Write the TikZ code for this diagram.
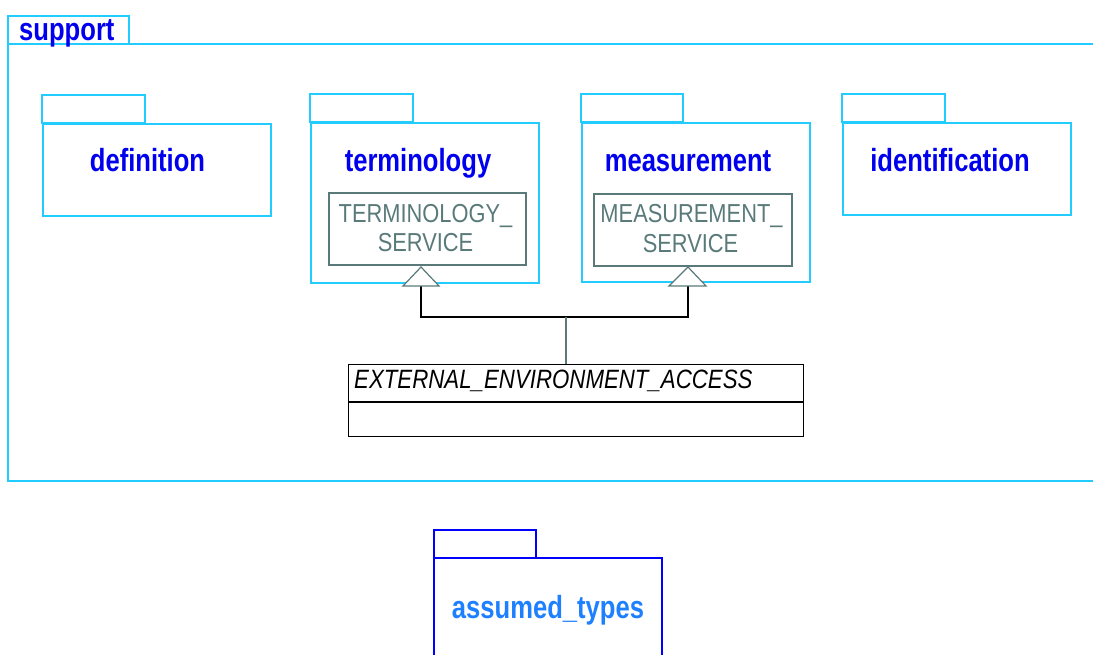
\documentclass[tikz,border=0pt]{standalone}
\usetikzlibrary{calc}
\usepackage{fontspec}
\setmainfont{Liberation Sans}
\newfontfamily\pkgfont[FakeStretch=0.8]{Liberation Sans}
\newfontfamily\clsfont[FakeStretch=0.84]{Liberation Sans}
\newfontfamily\eeafont[FakeStretch=0.84]{Liberation Sans}
\definecolor{framecyan}{RGB}{34,204,255}
\definecolor{lblblue}{RGB}{0,0,238}
\definecolor{atblue}{RGB}{0,0,255}
\definecolor{atlbl}{RGB}{30,128,255}
\definecolor{clsgrey}{RGB}{90,122,122}
\tikzset{
  pkgline/.style={draw=framecyan, line width=2pt},
  pkgbody/.style={pkgline, rectangle, inner sep=0pt, anchor=north west},
  pkglabel/.style={text=lblblue, anchor=base, inner sep=0pt, font=\pkgfont\bfseries\fontsize{32}{36}\selectfont},
  clsbox/.style={draw=clsgrey, line width=2pt, rectangle, inner sep=0pt, anchor=north west},
  clstext/.style={text=clsgrey, anchor=base, inner sep=0pt, font=\clsfont\fontsize{26}{30}\selectfont},
  gentri/.style={draw=clsgrey, line width=1.2pt, fill=white, line join=miter},
  genline/.style={draw=black, line width=2pt},
  eeabox/.style={draw=black, line width=1.2pt, rectangle, inner sep=0pt, anchor=north west},
}
\begin{document}
\begin{tikzpicture}[x=1pt, y=-1pt]
\useasboundingbox (0,0) rectangle (1093,655);

% support frame
\draw[pkgline] (8,16) rectangle (129,44);
\draw[pkgline] (1100,44) -- (8,44) -- (8,481) -- (1100,481);
\node[pkglabel, anchor=base west] (supportlbl) at (19,41) {support};

% definition
\draw[pkgline] (42,123) rectangle (145,95);
\node[pkgbody, minimum width=228pt, minimum height=92pt] (defbody) at (42,123) {};
\node[pkglabel] (deflbl) at (147.5,171.5) {definition};

% terminology
\draw[pkgline] (310,122) rectangle (413,94);
\node[pkgbody, minimum width=228pt, minimum height=160pt] (termbody) at (310,122) {};
\node[pkglabel] (termlbl) at (418,171.5) {terminology};
\node[clsbox, minimum width=197pt, minimum height=72pt] (tsvc) at (328,192) {};
\node[clstext] (tsvc1) at (425.5,222.5) {TERMINOLOGY\_};
\node[clstext] (tsvc2) at (425.5,252) {SERVICE};

% measurement
\draw[pkgline] (581,122) rectangle (683,94);
\node[pkgbody, minimum width=228pt, minimum height=159pt] (measbody) at (581,122) {};
\node[pkglabel] (measlbl) at (688,171.5) {measurement};
\node[clsbox, minimum width=198pt, minimum height=72pt] (msvc) at (593,193) {};
\node[clstext] (msvc1) at (691.5,223) {MEASUREMENT\_};
\node[clstext] (msvc2) at (690.5,252.5) {SERVICE};

% identification
\draw[pkgline] (842,122) rectangle (945,94);
\node[pkgbody, minimum width=228pt, minimum height=92pt] (idbody) at (842,122) {};
\node[pkglabel] (idlbl) at (950,171.5) {identification};

% EXTERNAL_ENVIRONMENT_ACCESS
\node[eeabox, minimum width=455pt, minimum height=72pt] (eea) at (348,364) {};
\coordinate (eeadiv) at (0,402);
\draw[black, line width=1.2pt] (eea.west |- eeadiv) -- (eea.east |- eeadiv);
\node[anchor=base west, inner sep=0pt, font=\eeafont\itshape\fontsize{26.5}{30}\selectfont] (eealbl) at (354,388.5) {EXTERNAL\_ENVIRONMENT\_ACCESS};

% generalisation connectors
\coordinate (tapex) at (421,267);
\coordinate (tbase) at (421,286);
\coordinate (mapex) at (688,267);
\coordinate (mbase) at (688,286);
\coordinate (hub) at (566,317);
\draw[genline] (tbase) -- (tbase |- hub) -- (mbase |- hub) -- (mbase);
\draw[clsgrey, line width=2pt] (hub) -- (hub |- eea.north);
\draw[gentri] (tapex) -- ($(tbase)+(-18,0)$) -- ($(tbase)+(18,0)$) -- cycle;
\draw[gentri] (mapex) -- ($(mbase)+(-19,0)$) -- ($(mbase)+(18,0)$) -- cycle;

% assumed_types
\draw[draw=atblue, line width=2pt] (434,558) rectangle (536,530);
\draw[draw=atblue, line width=2pt] (434,670) -- (434,558) -- (662,558) -- (662,670);
\coordinate (atbodytl) at (434,558);
\node[text=atlbl, anchor=base, inner sep=0pt, font=\pkgfont\bfseries\fontsize{32}{36}\selectfont] (atlbl) at (548,618) {assumed\_types};
\end{tikzpicture}
\end{document}
